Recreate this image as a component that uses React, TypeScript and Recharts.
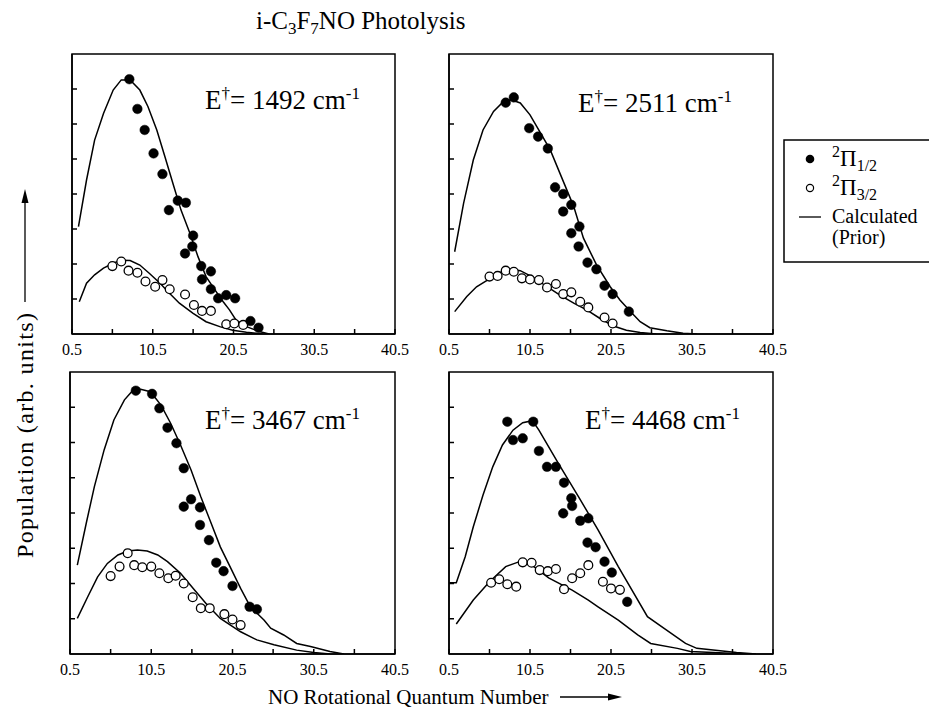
import React from 'react';
import { ComposedChart, Line, Scatter, XAxis, YAxis, ReferenceArea } from 'recharts';

const FONT = '"Liberation Serif", "Times New Roman", serif';

const xTicks = [0.5, 5.5, 10.5, 15.5, 20.5, 25.5, 30.5, 35.5, 40.5];
const xLabelTicks = [0.5, 10.5, 20.5, 30.5, 40.5];
const yTicks = [1, 2, 3, 4, 5, 6, 7];
const panelLabels = ['1492', '2511', '3467', '4468'];

// Panel 1 (E = 1492)
const p1Filled = [
  { x: 7.6, y: 7.28 }, { x: 8.6, y: 6.43 }, { x: 9.5, y: 5.83 }, { x: 10.6, y: 5.16 }, { x: 11.7, y: 4.57 },
  { x: 12.5, y: 3.54 }, { x: 13.6, y: 3.81 }, { x: 14.6, y: 3.75 }, { x: 14.5, y: 2.3 }, { x: 15.5, y: 2.81 },
  { x: 15.4, y: 2.5 }, { x: 16.5, y: 1.94 }, { x: 16.6, y: 1.56 }, { x: 17.7, y: 1.79 }, { x: 17.7, y: 1.28 },
  { x: 18.6, y: 1.02 }, { x: 19.6, y: 1.11 }, { x: 20.7, y: 1.02 }, { x: 22.6, y: 0.37 }, { x: 23.6, y: 0.18 },
];
const p1Open = [
  { x: 5.5, y: 1.94 }, { x: 6.6, y: 2.07 }, { x: 7.5, y: 1.81 }, { x: 8.6, y: 1.75 }, { x: 9.6, y: 1.5 },
  { x: 10.8, y: 1.35 }, { x: 11.7, y: 1.54 }, { x: 12.6, y: 1.28 }, { x: 14.5, y: 1.13 }, { x: 15.6, y: 0.83 },
  { x: 16.6, y: 0.66 }, { x: 17.7, y: 0.66 }, { x: 19.6, y: 0.28 }, { x: 20.6, y: 0.3 }, { x: 21.7, y: 0.26 },
];
const p1CalcHalf = [
  { x: 1.3, y: 3.07 }, { x: 2.3, y: 4.4 }, { x: 3.3, y: 5.54 }, { x: 4.4, y: 6.3 }, { x: 5.6, y: 6.97 },
  { x: 6.6, y: 7.26 }, { x: 7.7, y: 7.26 }, { x: 8.9, y: 6.97 }, { x: 9.9, y: 6.5 }, { x: 11.0, y: 5.83 },
  { x: 12.0, y: 5.07 }, { x: 13.0, y: 4.3 }, { x: 14.0, y: 3.54 }, { x: 15.1, y: 2.88 }, { x: 16.1, y: 2.21 },
  { x: 17.1, y: 1.64 }, { x: 18.2, y: 1.26 }, { x: 19.2, y: 0.93 }, { x: 20.0, y: 0.69 }, { x: 20.8, y: 0.4 },
  { x: 22.1, y: 0.21 }, { x: 23.7, y: 0.07 }, { x: 24.9, y: 0 },
];
const p1CalcThreeHalf = [
  { x: 1.4, y: 0.92 }, { x: 2.3, y: 1.45 }, { x: 3.3, y: 1.69 }, { x: 4.4, y: 1.88 }, { x: 5.6, y: 2.02 },
  { x: 6.6, y: 2.11 }, { x: 7.7, y: 2.1 }, { x: 8.9, y: 1.97 }, { x: 10.1, y: 1.73 }, { x: 11.4, y: 1.45 },
  { x: 12.6, y: 1.16 }, { x: 13.8, y: 0.88 }, { x: 15.5, y: 0.59 }, { x: 17.1, y: 0.35 }, { x: 18.8, y: 0.21 },
  { x: 20.4, y: 0.11 }, { x: 22.1, y: 0.05 }, { x: 24.1, y: 0 },
];

// Panel 2 (E = 2511)
const p2Filled = [
  { x: 7.5, y: 6.61 }, { x: 8.5, y: 6.76 }, { x: 10.4, y: 5.88 }, { x: 11.5, y: 5.64 }, { x: 12.7, y: 5.3 },
  { x: 13.6, y: 4.19 }, { x: 14.6, y: 4.0 }, { x: 15.6, y: 3.69 }, { x: 14.6, y: 3.5 }, { x: 16.6, y: 3.07 },
  { x: 15.6, y: 2.88 }, { x: 16.5, y: 2.5 }, { x: 17.6, y: 2.04 }, { x: 18.7, y: 1.85 }, { x: 19.7, y: 1.38 },
  { x: 20.7, y: 1.14 }, { x: 22.7, y: 0.64 },
];
const p2Open = [
  { x: 5.5, y: 1.64 }, { x: 6.5, y: 1.66 }, { x: 7.5, y: 1.81 }, { x: 8.5, y: 1.78 }, { x: 9.5, y: 1.59 },
  { x: 10.5, y: 1.56 }, { x: 11.6, y: 1.54 }, { x: 12.6, y: 1.33 }, { x: 13.7, y: 1.43 }, { x: 14.6, y: 1.14 },
  { x: 15.6, y: 1.19 }, { x: 16.7, y: 0.92 }, { x: 17.7, y: 0.76 }, { x: 19.7, y: 0.47 }, { x: 20.7, y: 0.3 },
];
const p2CalcHalf = [
  { x: 1.2, y: 2.35 }, { x: 2.3, y: 3.73 }, { x: 3.5, y: 4.97 }, { x: 4.7, y: 5.83 }, { x: 6.0, y: 6.36 },
  { x: 7.2, y: 6.64 }, { x: 8.2, y: 6.69 }, { x: 9.3, y: 6.6 }, { x: 10.5, y: 6.26 }, { x: 11.7, y: 5.78 },
  { x: 13.0, y: 5.26 }, { x: 14.2, y: 4.59 }, { x: 15.9, y: 3.64 }, { x: 17.1, y: 2.74 }, { x: 18.7, y: 1.98 },
  { x: 20.4, y: 1.35 }, { x: 21.6, y: 0.97 }, { x: 22.9, y: 0.64 }, { x: 24.1, y: 0.35 }, { x: 25.3, y: 0.18 },
  { x: 27.4, y: 0.09 }, { x: 29.4, y: 0.02 }, { x: 31.1, y: 0 },
];
const p2CalcThreeHalf = [
  { x: 1.2, y: 0.64 }, { x: 2.7, y: 1.07 }, { x: 3.9, y: 1.35 }, { x: 5.6, y: 1.59 }, { x: 7.2, y: 1.81 },
  { x: 8.2, y: 1.85 }, { x: 9.3, y: 1.81 }, { x: 10.9, y: 1.62 }, { x: 12.6, y: 1.35 }, { x: 14.2, y: 1.11 },
  { x: 15.9, y: 0.88 }, { x: 17.5, y: 0.69 }, { x: 19.1, y: 0.45 }, { x: 20.8, y: 0.23 }, { x: 22.4, y: 0.11 },
  { x: 24.1, y: 0.04 }, { x: 26.1, y: 0 },
];

// Panel 3 (E = 3467)
const p3Filled = [
  { x: 8.6, y: 7.47 }, { x: 10.6, y: 7.38 }, { x: 11.5, y: 6.97 }, { x: 12.5, y: 6.42 }, { x: 13.6, y: 5.98 },
  { x: 14.5, y: 5.27 }, { x: 14.5, y: 4.18 }, { x: 15.4, y: 4.39 }, { x: 16.5, y: 4.16 }, { x: 16.5, y: 3.66 },
  { x: 17.6, y: 3.23 }, { x: 18.5, y: 2.59 }, { x: 19.4, y: 2.35 }, { x: 20.5, y: 1.93 }, { x: 22.6, y: 1.34 },
  { x: 23.5, y: 1.27 },
];
const p3Open = [
  { x: 5.5, y: 2.21 }, { x: 6.6, y: 2.48 }, { x: 7.6, y: 2.86 }, { x: 8.4, y: 2.52 }, { x: 9.4, y: 2.46 },
  { x: 10.5, y: 2.48 }, { x: 11.5, y: 2.29 }, { x: 12.6, y: 2.15 }, { x: 13.5, y: 2.22 }, { x: 14.5, y: 2.0 },
  { x: 15.6, y: 1.61 }, { x: 16.6, y: 1.3 }, { x: 17.7, y: 1.3 }, { x: 19.5, y: 1.13 }, { x: 20.5, y: 0.98 },
  { x: 21.5, y: 0.82 },
];
const p3CalcHalf = [
  { x: 1.4, y: 2.52 }, { x: 2.5, y: 3.71 }, { x: 3.5, y: 4.75 }, { x: 4.7, y: 5.79 }, { x: 5.9, y: 6.64 },
  { x: 7.2, y: 7.21 }, { x: 8.2, y: 7.47 }, { x: 9.2, y: 7.51 }, { x: 10.4, y: 7.44 }, { x: 11.7, y: 7.06 },
  { x: 12.9, y: 6.54 }, { x: 14.1, y: 5.93 }, { x: 15.4, y: 5.22 }, { x: 16.6, y: 4.46 }, { x: 17.8, y: 3.75 },
  { x: 19.0, y: 3.04 }, { x: 20.3, y: 2.43 }, { x: 21.5, y: 1.86 }, { x: 22.7, y: 1.34 }, { x: 24.4, y: 0.96 },
  { x: 25.2, y: 0.73 }, { x: 26.8, y: 0.54 }, { x: 28.4, y: 0.3 }, { x: 30.1, y: 0.21 }, { x: 32.5, y: 0.07 },
  { x: 34.2, y: 0 },
];
const p3CalcThreeHalf = [
  { x: 1.4, y: 1.01 }, { x: 2.7, y: 1.63 }, { x: 3.9, y: 2.19 }, { x: 5.1, y: 2.57 }, { x: 6.4, y: 2.81 },
  { x: 7.6, y: 2.92 }, { x: 8.8, y: 2.95 }, { x: 10.0, y: 2.92 }, { x: 11.3, y: 2.81 }, { x: 12.5, y: 2.62 },
  { x: 14.1, y: 2.29 }, { x: 15.8, y: 1.82 }, { x: 17.4, y: 1.39 }, { x: 19.0, y: 1.01 }, { x: 21.5, y: 0.63 },
  { x: 23.5, y: 0.4 }, { x: 25.6, y: 0.26 }, { x: 28.4, y: 0.11 }, { x: 30.5, y: 0.04 }, { x: 32.5, y: 0 },
];

// Panel 4 (E = 4468)
const p4Filled = [
  { x: 7.7, y: 6.59 }, { x: 8.4, y: 6.07 }, { x: 9.6, y: 6.12 }, { x: 10.9, y: 6.59 }, { x: 11.6, y: 5.76 },
  { x: 12.6, y: 5.31 }, { x: 13.7, y: 5.31 }, { x: 14.7, y: 4.86 }, { x: 15.6, y: 4.42 }, { x: 15.7, y: 4.2 },
  { x: 14.6, y: 3.99 }, { x: 16.7, y: 3.78 }, { x: 17.7, y: 3.85 }, { x: 17.6, y: 3.16 }, { x: 18.6, y: 3.03 },
  { x: 19.7, y: 2.62 }, { x: 20.6, y: 2.31 }, { x: 22.5, y: 1.48 },
];
const p4Open = [
  { x: 5.7, y: 2.02 }, { x: 6.7, y: 2.12 }, { x: 7.7, y: 1.98 }, { x: 8.8, y: 1.91 }, { x: 9.6, y: 2.6 },
  { x: 10.7, y: 2.59 }, { x: 11.7, y: 2.38 }, { x: 12.7, y: 2.35 }, { x: 13.7, y: 2.41 }, { x: 14.7, y: 1.84 },
  { x: 15.7, y: 2.15 }, { x: 16.7, y: 2.29 }, { x: 17.7, y: 2.52 }, { x: 19.5, y: 2.05 }, { x: 20.5, y: 1.86 },
  { x: 21.6, y: 1.82 },
];
const p4CalcHalf = [
  { x: 0.5, y: 2.02 }, { x: 1.4, y: 2.02 }, { x: 2.5, y: 2.76 }, { x: 3.5, y: 3.61 }, { x: 4.7, y: 4.51 },
  { x: 5.9, y: 5.31 }, { x: 7.1, y: 5.93 }, { x: 8.4, y: 6.35 }, { x: 9.6, y: 6.56 }, { x: 10.8, y: 6.62 },
  { x: 11.6, y: 6.35 }, { x: 14.0, y: 5.41 }, { x: 16.5, y: 4.46 }, { x: 18.9, y: 3.52 }, { x: 21.4, y: 2.48 },
  { x: 25.0, y: 1.06 }, { x: 27.1, y: 0.72 }, { x: 29.7, y: 0.3 }, { x: 31.1, y: 0.16 }, { x: 36.0, y: 0.04 },
  { x: 38.4, y: 0 },
];
const p4CalcThreeHalf = [
  { x: 1.4, y: 0.85 }, { x: 3.5, y: 1.53 }, { x: 5.5, y: 2.05 }, { x: 7.5, y: 2.48 }, { x: 9.2, y: 2.62 },
  { x: 10.4, y: 2.58 }, { x: 12.8, y: 2.16 }, { x: 15.7, y: 1.81 }, { x: 17.7, y: 1.53 }, { x: 18.9, y: 1.34 },
  { x: 21.4, y: 0.96 }, { x: 23.8, y: 0.54 }, { x: 25.4, y: 0.3 }, { x: 28.7, y: 0.16 }, { x: 30.3, y: 0.07 },
  { x: 35.2, y: 0.02 }, { x: 37.6, y: 0 },
];

const FilledDot = (props: any) => {
  const { cx, cy } = props;
  if (cx == null || cy == null) return null;
  return <circle cx={cx} cy={cy} r={4.8} fill="#000" stroke="#000" strokeWidth={0.5} />;
};
const OpenDot = (props: any) => {
  const { cx, cy } = props;
  if (cx == null || cy == null) return null;
  return <circle cx={cx} cy={cy} r={4.4} fill="#fff" stroke="#000" strokeWidth={1.3} />;
};

type Pt = { x: number; y: number };

function Panel(props: {
  left: number; top: number; w: number; h: number;
  filled: Pt[]; open: Pt[]; calcA: Pt[]; calcB: Pt[];
}) {
  const { left, top, w, h, filled, open, calcA, calcB } = props;
  const ml = 24, mr = 24, mt = 10, xh = 34, yw = 10;
  return (
    <div style={{ position: 'absolute', left: left - ml, top: top - mt }}>
      <ComposedChart
        width={w + ml + mr}
        height={h + mt + xh}
        margin={{ top: mt, right: mr, bottom: 0, left: ml - yw }}
      >
        <XAxis
          type="number" dataKey="x" domain={[0.5, 40.5]} ticks={xTicks} interval={0}
          allowDataOverflow height={xh} stroke="#000" strokeWidth={1.5}
          tickSize={-5} tickMargin={15}
          tickFormatter={(v: number) => (xLabelTicks.includes(v) ? String(v) : '')}
          tick={{ fill: '#000', fontSize: 16, fontFamily: FONT }}
        />
        <YAxis
          type="number" dataKey="y" domain={[0, 8]} ticks={yTicks} interval={0}
          allowDataOverflow width={yw} stroke="#000" strokeWidth={1.5}
          tickSize={-5} tickFormatter={() => ''}
        />
        <ReferenceArea x1={0.5} x2={40.5} y1={0} y2={8} fill="none" stroke="#000" strokeWidth={1.5} fillOpacity={0} />
        <Line data={calcA} dataKey="y" type="linear" stroke="#000" strokeWidth={1.5} dot={false} isAnimationActive={false} />
        <Line data={calcB} dataKey="y" type="linear" stroke="#000" strokeWidth={1.5} dot={false} isAnimationActive={false} />
        <Scatter data={open} dataKey="y" shape={OpenDot} isAnimationActive={false} />
        <Scatter data={filled} dataKey="y" shape={FilledDot} isAnimationActive={false} />
      </ComposedChart>
    </div>
  );
}

function PanelLabel({ x, y, value }: { x: number; y: number; value: string }) {
  return (
    <text x={x} y={y} fontFamily={FONT} fontSize={27} fill="#000">
      E<tspan fontSize={17} dy={-10}>†</tspan>
      <tspan dy={10}>= {value} cm</tspan>
      <tspan fontSize={17} dy={-10}>-1</tspan>
    </text>
  );
}

export default function App() {
  return (
    <div style={{ position: 'absolute', left: 0, top: 0, width: 929, height: 712, background: '#fff', overflow: 'hidden' }}>
      <Panel left={72} top={54} w={323} h={280} filled={p1Filled} open={p1Open} calcA={p1CalcHalf} calcB={p1CalcThreeHalf} />
      <Panel left={449} top={54} w={324} h={280} filled={p2Filled} open={p2Open} calcA={p2CalcHalf} calcB={p2CalcThreeHalf} />
      <Panel left={70} top={372} w={325} h={282} filled={p3Filled} open={p3Open} calcA={p3CalcHalf} calcB={p3CalcThreeHalf} />
      <Panel left={449} top={372} w={324} h={282} filled={p4Filled} open={p4Open} calcA={p4CalcHalf} calcB={p4CalcThreeHalf} />
      <svg width={929} height={712} style={{ position: 'absolute', left: 0, top: 0, pointerEvents: 'none' }}>
        {/* Title */}
        <text x={256} y={29} fontFamily={FONT} fontSize={25} fill="#000">
          i-C<tspan fontSize={17} dy={5}>3</tspan>
          <tspan dy={-5}>F</tspan>
          <tspan fontSize={17} dy={5}>7</tspan>
          <tspan dy={-5}>NO Photolysis</tspan>
        </text>

        <PanelLabel x={205} y={109} value={panelLabels[0]} />
        <PanelLabel x={578} y={112} value={panelLabels[1]} />
        <PanelLabel x={205} y={429} value={panelLabels[2]} />
        <PanelLabel x={585} y={429} value={panelLabels[3]} />

        {/* Legend */}
        <rect x={784} y={140} width={160} height={122} fill="none" stroke="#000" strokeWidth={1.5} />
        <circle cx={810} cy={159} r={4.3} fill="#000" />
        <text x={832} y={166} fontFamily={FONT} fontSize={23} fill="#000">
          <tspan fontSize={16} dy={-9}>2</tspan>
          <tspan dy={9}>Π</tspan>
          <tspan fontSize={16} dy={5}>1/2</tspan>
        </text>
        <circle cx={810} cy={188} r={3.6} fill="#fff" stroke="#000" strokeWidth={1.2} />
        <text x={832} y={195} fontFamily={FONT} fontSize={23} fill="#000">
          <tspan fontSize={16} dy={-9}>2</tspan>
          <tspan dy={9}>Π</tspan>
          <tspan fontSize={16} dy={5}>3/2</tspan>
        </text>
        <line x1={799} x2={821} y1={217} y2={217} stroke="#000" strokeWidth={1.3} />
        <text x={832} y={223} fontFamily={FONT} fontSize={20} fill="#000">Calculated</text>
        <text x={832} y={244} fontFamily={FONT} fontSize={20} fill="#000">(Prior)</text>

        {/* Y axis label */}
        <text transform="translate(33,558) rotate(-90)" x={0} y={0} fontFamily={FONT} fontSize={24}
          fill="#000" textLength={245} lengthAdjust="spacing">
          Population (arb. units)
        </text>
        <line x1={25} x2={25} y1={302} y2={200} stroke="#000" strokeWidth={1.3} />
        <polygon points="25,189 21.5,203 28.5,203" fill="#000" />

        {/* X axis label */}
        <text x={268} y={704} fontFamily={FONT} fontSize={21} fill="#000">NO Rotational Quantum Number</text>
        <line x1={560} x2={610} y1={697} y2={697} stroke="#000" strokeWidth={1.3} />
        <polygon points="622,697 608,693.5 608,700.5" fill="#000" />
      </svg>
    </div>
  );
}
